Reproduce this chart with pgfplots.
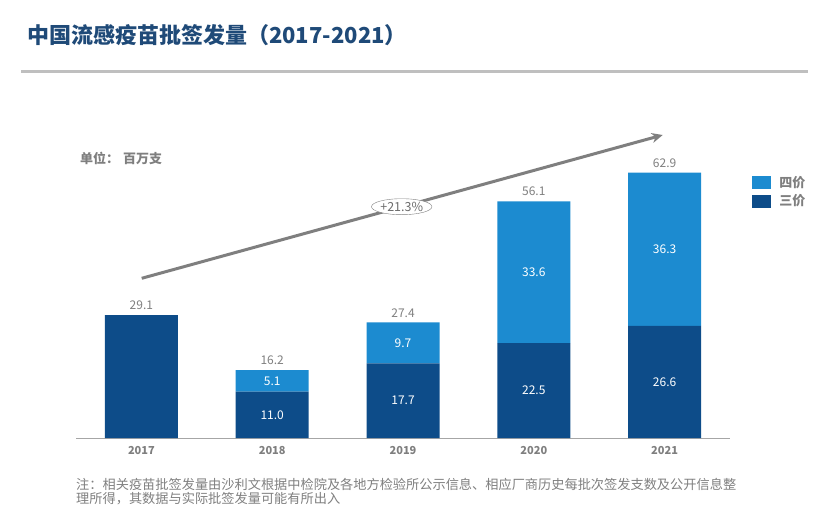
\documentclass[border=0pt]{standalone}
\usepackage{fontspec}
\setmainfont{Noto Sans CJK SC}
\usepackage{pgfplots}
\pgfplotsset{compat=1.18}
\usetikzlibrary{arrows.meta,shapes.geometric}
\definecolor{darkb}{HTML}{0D4C89}
\definecolor{lightb}{HTML}{1C8BD0}
\definecolor{txtgray}{HTML}{7F7F7F}
\definecolor{titleblue}{HTML}{1F4A78}
\definecolor{rulegray}{HTML}{BFBFBF}
\pgfplotsset{
 base/.style={
  at={(76bp,-438bp)}, anchor=south west, scale only axis,
  width=654bp, height=295.4bp,
  xmin=-0.5, xmax=4.5, ymin=0, ymax=70,
  bar width=73bp, clip=false,
 }
}
\begin{document}
\begin{tikzpicture}
\path[use as bounding box] (0,0) rectangle (835bp,-518bp);
\draw[rulegray, line width=3bp] (21bp,-71bp) -- (808bp,-71bp);
\node[anchor=west, font=\fontsize{22bp}{26bp}\selectfont\bfseries, text=titleblue, inner sep=0] at (27bp,-35bp) {中国流感疫苗批签发量（2017-2021）};
\node[anchor=west, font=\fontsize{13bp}{15bp}\selectfont\bfseries, text=txtgray, inner sep=0] at (80bp,-158bp) {单位：\hspace{4bp}百万支};
\begin{axis}[base,
 ybar stacked,
 axis y line=none, axis x line*=bottom,
 x axis line style={draw=gray!70, line width=1bp},
 xtick={0,1,2,3,4}, xticklabels={2017,2018,2019,2020,2021},
 major tick length=0pt,
 xticklabel style={font=\fontsize{11bp}{13bp}\selectfont\bfseries, text=txtgray, yshift=-5bp},
 ytick=\empty,
 point meta=explicit symbolic,
 nodes near coords,
 every node near coord/.append style={anchor=center, text=white, font=\fontsize{12bp}{14bp}\selectfont},
 legend image code/.code={\fill[#1] (0bp,-6.5bp) rectangle (19bp,6.5bp);},
 reverse legend,
 legend cell align=left,
 legend style={draw=none, fill=none, at={(1.034,0.894)}, anchor=north west,
   font=\fontsize{13bp}{15bp}\selectfont\bfseries, inner sep=0pt,
   row sep=2bp, /tikz/every odd column/.append style={column sep=6bp}},
]
\addplot[fill=darkb, draw=none]
  coordinates {(0,29.1)[] (1,11.0)[11.0] (2,17.7)[17.7] (3,22.5)[22.5] (4,26.6)[26.6]};
\addlegendentry{\textcolor{txtgray}{三价}}
\addplot[fill=lightb, draw=none]
  coordinates {(0,0)[] (1,5.1)[5.1] (2,9.7)[9.7] (3,33.6)[33.6] (4,36.3)[36.3]};
\addlegendentry{\textcolor{txtgray}{四价}}
\end{axis}
\begin{axis}[base, ybar, hide axis,
 point meta=explicit symbolic,
 nodes near coords,
 every node near coord/.append style={anchor=south, text=txtgray, font=\fontsize{12bp}{14bp}\selectfont, inner sep=2bp, yshift=3bp}]
\addplot[fill=none, draw=none, bar shift=0pt]
  coordinates {(0,29.1)[29.1] (1,16.2)[16.2] (2,27.4)[27.4] (3,56.1)[56.1] (4,62.9)[62.9]};
\end{axis}
\draw[txtgray, line width=3bp, -{Stealth[length=11bp,width=10bp]}] (141.7bp,-278.3bp) -- (662.7bp,-135bp);
\node[draw=txtgray, fill=white, ellipse, minimum width=58bp, minimum height=16bp, inner sep=0pt, text=txtgray!85!black, font=\fontsize{12.5bp}{14bp}\selectfont] at (401.7bp,-206.7bp) {+21.3\%};
\node[anchor=west, font=\fontsize{13.2bp}{15bp}\selectfont, text=txtgray, inner sep=0] at (76bp,-484bp) {注：相关疫苗批签发量由沙利文根据中检院及各地方检验所公示信息、相应厂商历史每批次签发支数及公开信息整};
\node[anchor=west, font=\fontsize{13.2bp}{15bp}\selectfont, text=txtgray, inner sep=0] at (76bp,-499bp) {理所得，其数据与实际批签发量可能有所出入};
\end{tikzpicture}
\end{document}
